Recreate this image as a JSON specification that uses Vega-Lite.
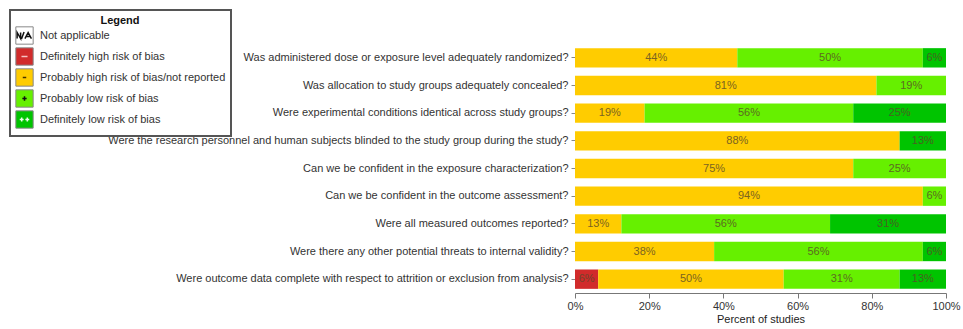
{
  "$schema": "https://vega.github.io/schema/vega-lite/v6.json",
  "width": 371,
  "height": 249,
  "autosize": {"type": "none"},
  "padding": {"left": 575, "top": 44, "right": 17, "bottom": 36},
  "background": "white",
  "config": {
    "font": "Liberation Sans",
    "view": {"stroke": null},
    "axis": {"labelFontSize": 11, "titleFontSize": 11, "labelColor": "#333", "titleColor": "#222", "grid": false},
    "legend": {"strokeWidth": 2}
  },
  "data": {
    "values": [
      {"q": "Was administered dose or exposure level adequately randomized?", "cat": "Probably high risk of bias/not reported", "pct": 0.4375},
      {"q": "Was administered dose or exposure level adequately randomized?", "cat": "Probably low risk of bias", "pct": 0.5},
      {"q": "Was administered dose or exposure level adequately randomized?", "cat": "Definitely low risk of bias", "pct": 0.0625},
      {"q": "Was allocation to study groups adequately concealed?", "cat": "Probably high risk of bias/not reported", "pct": 0.8125},
      {"q": "Was allocation to study groups adequately concealed?", "cat": "Probably low risk of bias", "pct": 0.1875},
      {"q": "Were experimental conditions identical across study groups?", "cat": "Probably high risk of bias/not reported", "pct": 0.1875},
      {"q": "Were experimental conditions identical across study groups?", "cat": "Probably low risk of bias", "pct": 0.5625},
      {"q": "Were experimental conditions identical across study groups?", "cat": "Definitely low risk of bias", "pct": 0.25},
      {"q": "Were the research personnel and human subjects blinded to the study group during the study?", "cat": "Probably high risk of bias/not reported", "pct": 0.875},
      {"q": "Were the research personnel and human subjects blinded to the study group during the study?", "cat": "Definitely low risk of bias", "pct": 0.125},
      {"q": "Can we be confident in the exposure characterization?", "cat": "Probably high risk of bias/not reported", "pct": 0.75},
      {"q": "Can we be confident in the exposure characterization?", "cat": "Probably low risk of bias", "pct": 0.25},
      {"q": "Can we be confident in the outcome assessment?", "cat": "Probably high risk of bias/not reported", "pct": 0.9375},
      {"q": "Can we be confident in the outcome assessment?", "cat": "Probably low risk of bias", "pct": 0.0625},
      {"q": "Were all measured outcomes reported?", "cat": "Probably high risk of bias/not reported", "pct": 0.125},
      {"q": "Were all measured outcomes reported?", "cat": "Probably low risk of bias", "pct": 0.5625},
      {"q": "Were all measured outcomes reported?", "cat": "Definitely low risk of bias", "pct": 0.3125},
      {"q": "Were there any other potential threats to internal validity?", "cat": "Probably high risk of bias/not reported", "pct": 0.375},
      {"q": "Were there any other potential threats to internal validity?", "cat": "Probably low risk of bias", "pct": 0.5625},
      {"q": "Were there any other potential threats to internal validity?", "cat": "Definitely low risk of bias", "pct": 0.0625},
      {"q": "Were outcome data complete with respect to attrition or exclusion from analysis?", "cat": "Definitely high risk of bias", "pct": 0.0625},
      {"q": "Were outcome data complete with respect to attrition or exclusion from analysis?", "cat": "Probably high risk of bias/not reported", "pct": 0.5},
      {"q": "Were outcome data complete with respect to attrition or exclusion from analysis?", "cat": "Probably low risk of bias", "pct": 0.3125},
      {"q": "Were outcome data complete with respect to attrition or exclusion from analysis?", "cat": "Definitely low risk of bias", "pct": 0.125}
    ]
  },
  "transform": [
    {"calculate": "indexof(['Not applicable','Definitely high risk of bias','Probably high risk of bias/not reported','Probably low risk of bias','Definitely low risk of bias'], datum.cat)", "as": "ord"},
    {"calculate": "['N/A','--','-','+','++'][datum.ord]", "as": "glyph"},
    {"stack": "pct", "groupby": ["q"], "sort": [{"field": "ord", "order": "ascending"}], "as": ["x0", "x1"]},
    {"calculate": "(datum.x0 + datum.x1) / 2", "as": "xm"}
  ],
  "encoding": {
    "y": {
      "field": "q", "type": "nominal", "sort": null,
      "scale": {"paddingInner": 0.3, "paddingOuter": 0.15},
      "axis": {"title": null, "labelLimit": 600, "domain": false, "tickSize": 4, "tickColor": "#888", "labelPadding": 3}
    }
  },
  "layer": [
    {
      "mark": {"type": "bar"},
      "encoding": {
        "x": {"field": "x0", "type": "quantitative", "scale": {"domain": [0, 1], "nice": false},
          "axis": {"title": "Percent of studies", "titleFontWeight": "normal", "format": "%", "values": [0, 0.2, 0.4, 0.6, 0.8, 1], "tickSize": 5, "tickColor": "#777", "domainColor": "#777", "labelPadding": 2, "titlePadding": 2, "labelFlush": false}},
        "x2": {"field": "x1"},
        "color": {
          "field": "cat", "type": "nominal",
          "scale": {
            "domain": ["Not applicable", "Definitely high risk of bias", "Probably high risk of bias/not reported", "Probably low risk of bias", "Definitely low risk of bias"],
            "range": ["#ffffff", "#d12b2b", "#ffcc00", "#66f000", "#00c400"]
          },
          "legend": {
            "title": "Legend",
            "orient": "none",
            "legendX": -565,
            "legendY": -34,
            "symbolType": "square",
            "symbolSize": 300,
            "symbolStrokeColor": "#888",
            "symbolStrokeWidth": 1,
            "symbolOpacity": 1,
            "labelFontSize": 11,
            "labelColor": "#333",
            "labelOffset": 6,
            "labelLimit": 300,
            "rowPadding": -4,
            "titleFontSize": 11,
            "titleFontWeight": "bold",
            "titleColor": "#111",
            "titleAnchor": "middle",
            "titlePadding": 0,
            "padding": 5,
            "strokeColor": "#555",
            "fillColor": "white"
          }
        }
      }
    },
    {
      "mark": {"type": "point", "opacity": 0, "filled": false, "strokeWidth": 1.5},
      "encoding": {
        "x": {"field": "xm", "type": "quantitative"},
        "shape": {
          "field": "glyph", "type": "nominal",
          "scale": {
            "domain": ["N/A", "--", "-", "+", "++"],
            "range": [
              "M-0.972,-0.972M0.972,0.972M-0.85,0.35L-0.85,-0.35L-0.45,0.35L-0.45,-0.35M-0.35,0.4L-0.05,-0.4M0.05,0.35L0.42,-0.35L0.8,0.35M0.18,0.12L0.67,0.12",
              "M-0.972,-0.972M0.972,0.972M-0.35,0L0.35,0",
              "M-0.972,-0.972M0.972,0.972M-0.2,0L0.2,0",
              "M-0.972,-0.972M0.972,0.972M-0.25,0L0.25,0M0,-0.25L0,0.25",
              "M-0.972,-0.972M0.972,0.972M-0.55,0L-0.1,0M-0.325,-0.22L-0.325,0.22M0.1,0L0.55,0M0.325,-0.22L0.325,0.22"
            ]
          },
          "legend": {
            "title": " ",
            "orient": "none",
            "legendX": -565,
            "legendY": -34,
            "symbolSize": 300,
            "symbolFillColor": "transparent",
            "symbolStrokeWidth": 1.5,
            "symbolOpacity": 1,
            "labelFontSize": 11,
            "labelExpr": "''",
            "labelOffset": 6,
            "rowPadding": -4,
            "titleFontSize": 11,
            "titleFontWeight": "bold",
            "titleAnchor": "middle",
            "titlePadding": 0,
            "padding": 5,
            "strokeColor": null,
            "fillColor": null
          }
        },
        "stroke": {
          "field": "glyph", "type": "nominal",
          "scale": {
            "domain": ["N/A", "--", "-", "+", "++"],
            "range": ["#111111", "#f6c2c2", "#443300", "#111111", "#eaffea"]
          },
          "legend": {
            "title": " ",
            "orient": "none",
            "legendX": -565,
            "legendY": -34,
            "symbolSize": 300,
            "symbolFillColor": "transparent",
            "symbolStrokeWidth": 1.5,
            "symbolOpacity": 1,
            "labelFontSize": 11,
            "labelExpr": "''",
            "labelOffset": 6,
            "rowPadding": -4,
            "titleFontSize": 11,
            "titleFontWeight": "bold",
            "titleAnchor": "middle",
            "titlePadding": 0,
            "padding": 5,
            "strokeColor": null,
            "fillColor": null
          }
        }
      }
    },
    {
      "mark": {"type": "text", "fontSize": 11, "color": "#5a4a2a", "opacity": 0.8},
      "encoding": {
        "x": {"field": "xm", "type": "quantitative"},
        "text": {"field": "pct", "type": "quantitative", "format": ".0%"}
      }
    }
  ]
}
